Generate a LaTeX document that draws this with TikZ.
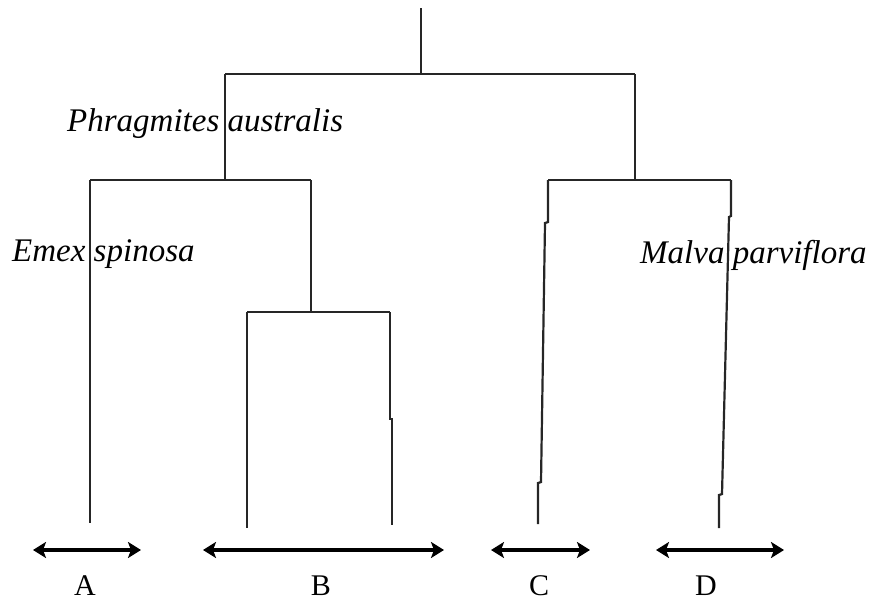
\documentclass[tikz,border=0pt]{standalone}
\usepackage{fontspec}
\setmainfont{Liberation Serif}
\usetikzlibrary{arrows.meta}
\tikzset{
  branch/.style={line width=2.2pt, black!85},
  spanarrow/.style={line width=3.4pt, {Stealth[length=13pt,width=16pt,inset=3pt]}-{Stealth[length=13pt,width=16pt,inset=3pt]}},
  species/.style={font=\fontsize{33}{35}\selectfont\itshape, inner sep=0pt, anchor=base west},
  grouplabel/.style={font=\fontsize{30}{32}\selectfont, inner sep=0pt, anchor=base},
}
\begin{document}
\begin{tikzpicture}[x=1pt,y=-1pt]
\useasboundingbox (0,0) rectangle (880,600);
% junction coordinates
\coordinate (root) at (421,8);
\coordinate (top) at (421,74);
\coordinate (tl) at (225,74);
\coordinate (tr) at (635,74);
\coordinate (l) at (225,180);
\coordinate (r) at (635,180);
\coordinate (la) at (90,180);
\coordinate (lb) at (311,180);
\coordinate (bj) at (311,312);
\coordinate (b1) at (247,312);
\coordinate (b2) at (390,312);
\coordinate (rc) at (548,180);
\coordinate (rd) at (731,180);
% tree
\draw[branch] (root) -- (top);
\draw[branch] (tl) -- (tr);
\draw[branch] (tl) -- (l);
\draw[branch] (tr) -- (r);
\draw[branch] (la) -- (lb);
\draw[branch] (la) -- (90,523);
\draw[branch] (lb) -- (bj);
\draw[branch] (b1) -- (b2);
\draw[branch] (b1) -- (247,528);
\draw[branch] (b2) -- (390,419) -- (392,419) -- (392,525);
\draw[branch] (rc) -- (rd);
\draw[branch] (rc) -- (548,222) -- (545,223) -- (541,482) -- (538,483) -- (538,524);
\draw[branch] (rd) -- (731,216) -- (729,217) -- (722,494) -- (719,495) -- (719,528);
% labels
\node[species] (phr) at (67,131) {Phragmites australis};
\node[species] (emx) at (12,261) {Emex spinosa};
\node[species] (mlv) at (640,263) {Malva parviflora};
% ranges
\coordinate (a1) at (33,550); \coordinate (a2) at (141,550);
\coordinate (bb1) at (203,550); \coordinate (bb2) at (444,550);
\coordinate (c1) at (491,550); \coordinate (c2) at (590,550);
\coordinate (d1) at (656,550); \coordinate (d2) at (784,550);
\draw[spanarrow] (a1) -- (a2);
\draw[spanarrow] (bb1) -- (bb2);
\draw[spanarrow] (c1) -- (c2);
\draw[spanarrow] (d1) -- (d2);
\node[grouplabel] (A) at (85,595) {A};
\node[grouplabel] (B) at (321,595) {B};
\node[grouplabel] (C) at (539,595) {C};
\node[grouplabel] (D) at (706,595) {D};
\end{tikzpicture}
\end{document}
